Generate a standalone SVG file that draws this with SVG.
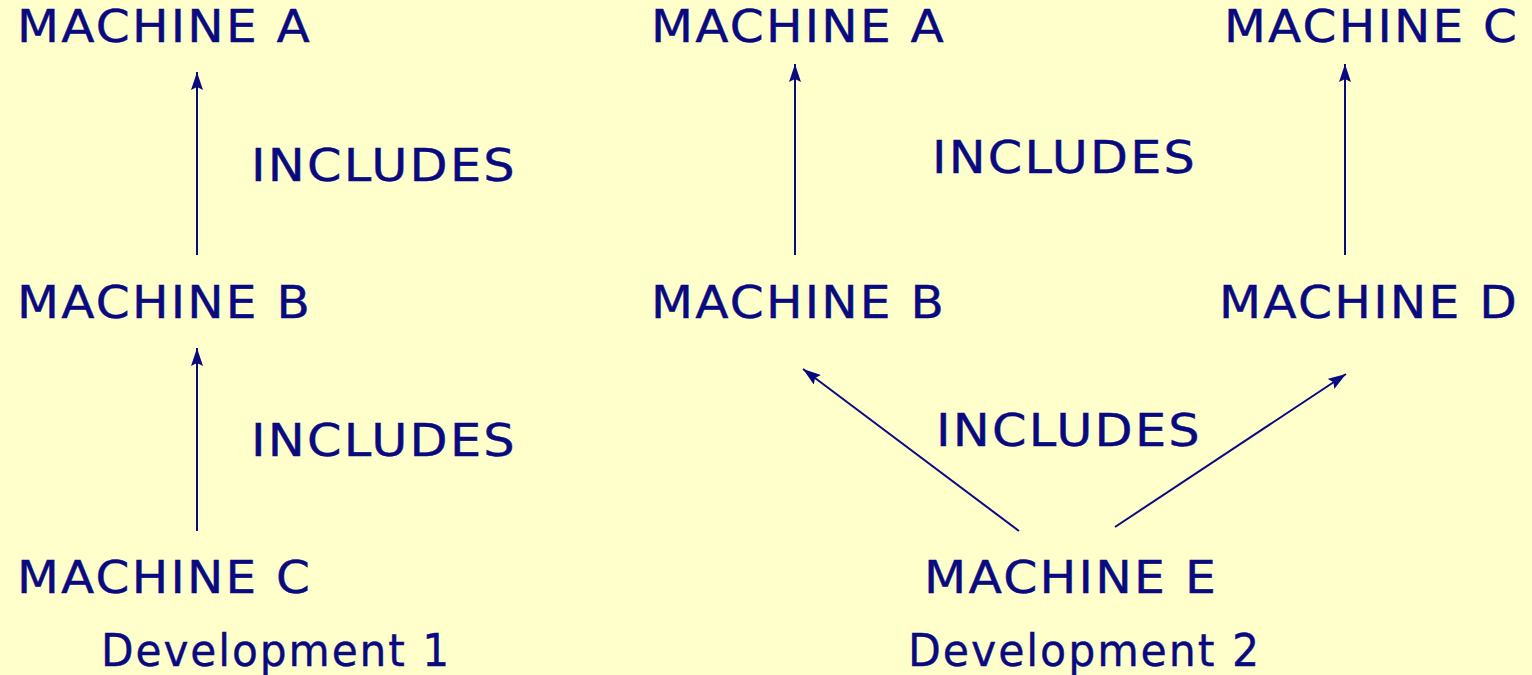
<svg xmlns="http://www.w3.org/2000/svg" width="1532" height="675" viewBox="0 0 1532 675">
<defs>
<style>
text{font-family:"DejaVu Sans","Liberation Sans",sans-serif;font-size:44px;fill:#0a0a80;letter-spacing:2px;stroke:#0a0a80;stroke-width:0.4px;}
.conn line{stroke:#0a0a80;stroke-width:2;fill:none;}
</style>
<marker id="ah" viewBox="0 0 18 12" refX="18" refY="6" markerWidth="18" markerHeight="12" markerUnits="userSpaceOnUse" orient="auto">
<path d="M0,0 L18,6 L0,12 L3,6 Z" fill="#0a0a80"/>
</marker>
</defs>
<rect width="1532" height="675" fill="#ffffcc"/>
<g id="d1-a"><text x="17" y="42" textLength="295" lengthAdjust="spacingAndGlyphs">MACHINE A</text></g>
<g id="d1-b"><text x="17" y="318" textLength="295" lengthAdjust="spacingAndGlyphs">MACHINE B</text></g>
<g id="d1-c"><text x="17" y="593" textLength="295" lengthAdjust="spacingAndGlyphs">MACHINE C</text></g>
<g id="d2-a"><text x="651" y="42" textLength="295" lengthAdjust="spacingAndGlyphs">MACHINE A</text></g>
<g id="d2-c"><text x="1224" y="42" textLength="295" lengthAdjust="spacingAndGlyphs">MACHINE C</text></g>
<g id="d2-b"><text x="651" y="318" textLength="295" lengthAdjust="spacingAndGlyphs">MACHINE B</text></g>
<g id="d2-d"><text x="1219" y="318" textLength="300" lengthAdjust="spacingAndGlyphs">MACHINE D</text></g>
<g id="d2-e"><text x="924" y="593" textLength="294" lengthAdjust="spacingAndGlyphs">MACHINE E</text></g>
<g id="conn" class="conn">
<line x1="197" y1="255" x2="197" y2="72" marker-end="url(#ah)"/>
<line x1="197" y1="531" x2="197" y2="348" marker-end="url(#ah)"/>
<line x1="795" y1="255" x2="795" y2="64" marker-end="url(#ah)"/>
<line x1="1345" y1="255" x2="1345" y2="64" marker-end="url(#ah)"/>
<line x1="1019" y1="531" x2="803" y2="369" marker-end="url(#ah)"/>
<line x1="1115" y1="527" x2="1346" y2="374" marker-end="url(#ah)"/>
</g>
<g id="labels">
<text x="251" y="181" textLength="266" lengthAdjust="spacingAndGlyphs">INCLUDES</text>
<text x="251" y="456" textLength="266" lengthAdjust="spacingAndGlyphs">INCLUDES</text>
<text x="932" y="173" textLength="265" lengthAdjust="spacingAndGlyphs">INCLUDES</text>
<text x="936" y="446" textLength="266" lengthAdjust="spacingAndGlyphs">INCLUDES</text>
<text x="101" y="666" textLength="350" lengthAdjust="spacingAndGlyphs">Development 1</text>
<text x="908" y="666" textLength="353" lengthAdjust="spacingAndGlyphs">Development 2</text>
</g>
</svg>
